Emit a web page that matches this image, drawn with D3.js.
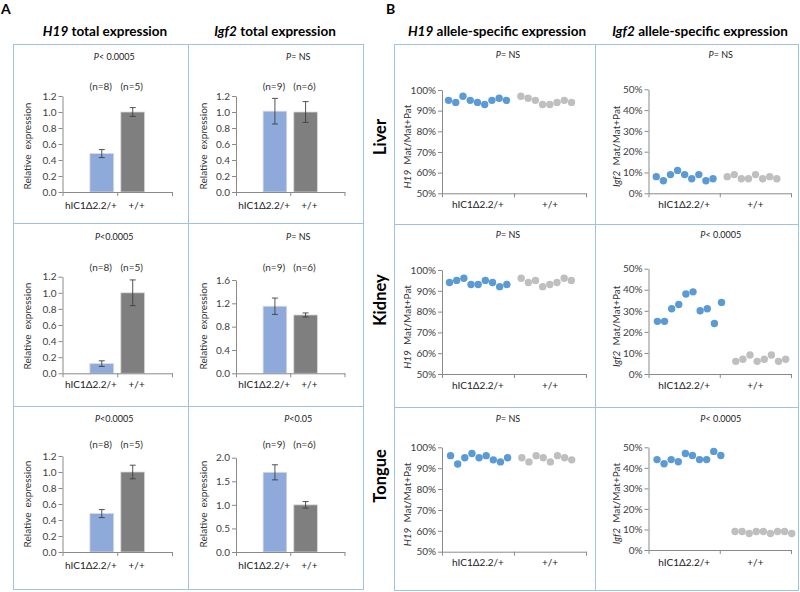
<!DOCTYPE html>
<html><head><meta charset="utf-8">
<script src="https://cdn.jsdelivr.net/npm/d3@7"></script>
<style>
body{margin:0;background:#fff}
svg{display:block}
text{font-family:Lato,"Open Sans",sans-serif}
</style>
</head><body>
<svg id="c" width="800" height="592"></svg>
<script>
// ---------------- DATA ----------------
const categories = ["hIC1Δ2.2/+", "+/+"];
const tissues = ["Liver", "Kidney", "Tongue"];
const nH19 = ["(n=8)", "(n=5)"];
const nIgf2 = ["(n=9)", "(n=6)"];

// Panel A: total expression (per tissue: Liver, Kidney, Tongue)
const h19TotalMut = [0.48, 0.12, 0.48];
const h19TotalMutErr = [0.05, 0.035, 0.05];
const h19TotalWt = [1.0, 1.0, 1.0];
const h19TotalWtErr = [0.055, 0.16, 0.085];
const igf2TotalMut = [1.01, 1.15, 1.69];
const igf2TotalMutErr = [0.16, 0.14, 0.16];
const igf2TotalWt = [1.0, 1.0, 1.0];
const igf2TotalWtErr = [0.13, 0.035, 0.07];
const h19TotalP = ["< 0.0005", "<0.0005", "<0.0005"];
const igf2TotalP = ["= NS", "= NS", "<0.05"];
const h19TotalTicks = [0, 0.2, 0.4, 0.6, 0.8, 1.0, 1.2];
const igf2TotalTicks = [
  [0, 0.2, 0.4, 0.6, 0.8, 1.0, 1.2],
  [0, 0.4, 0.8, 1.2, 1.6],
  [0, 0.5, 1.0, 1.5, 2.0]
];

// Panel B: allele-specific expression (% maternal)
const h19LiverMut  = [95, 94, 97, 95, 94, 93, 95, 96, 95];
const h19LiverWt   = [97, 96, 95, 93, 93, 94, 95, 94];
const igf2LiverMut = [8, 6, 9, 11, 9, 7, 9, 6, 7];
const igf2LiverWt  = [8, 9, 7, 7, 9, 7, 8, 7];
const h19KidneyMut  = [94, 95, 96, 93, 93, 95, 94, 92, 93];
const h19KidneyWt   = [96, 94, 95, 92, 93, 94, 96, 95];
const igf2KidneyMut = [25, 25, 31, 33, 38, 39, 30, 31, 24, 34];
const igf2KidneyWt  = [6, 7, 9, 6, 7, 9, 6, 7];
const h19TongueMut  = [96, 92, 95, 97, 95, 96, 94, 93, 95];
const h19TongueWt   = [95, 93, 96, 95, 93, 96, 95, 94];
const igf2TongueMut = [44, 42, 44, 43, 47, 46, 44, 44, 48, 46];
const igf2TongueWt  = [9, 9, 8, 9, 9, 8, 9, 9, 8];
const h19AlleleP = ["= NS", "= NS", "= NS"];
const igf2AlleleP = ["= NS", "< 0.0005", "< 0.0005"];
const h19AlleleTicks = [50, 60, 70, 80, 90, 100];
const igf2AlleleTicks = [0, 10, 20, 30, 40, 50];

// ---------------- STYLE / LAYOUT ----------------
const C = {
  frame: "#a3c1e2", axis: "#8a8a8a", tick: "#404040",
  blueBar: "#8eaadb", grayBar: "#7f7f7f",
  blueDot: "#5b9bd5", grayDot: "#bfbfbf", err: "#404040"
};
const FS = 10;
const svg = d3.select("#c");

function frame(x0, x1, y0, y1, vx, hys) {
  const g = svg.append("g").attr("stroke", C.frame).attr("fill", "none").attr("stroke-width", 1);
  g.append("rect").attr("x", x0).attr("y", y0).attr("width", x1 - x0).attr("height", y1 - y0);
  g.append("line").attr("x1", vx).attr("x2", vx).attr("y1", y0).attr("y2", y1);
  hys.forEach(h => g.append("line").attr("x1", x0).attr("x2", x1).attr("y1", h).attr("y2", h));
}
frame(13.5, 363.5, 44.5, 589.5, 188.5, [223.5, 406.5]);
frame(394.5, 798.5, 44.5, 590.5, 595.5, [224.5, 407.5]);

// panel letters and titles
svg.append("text").attr("x", 1).attr("y", 14).attr("font-size", 14).attr("font-weight", "bold").text("A");
svg.append("text").attr("x", 386).attr("y", 14).attr("font-size", 14).attr("font-weight", "bold").text("B");

function title(x, gene, rest) {
  const t = svg.append("text").attr("x", x).attr("y", 36).attr("text-anchor", "middle")
    .attr("font-size", 13.5).attr("font-weight", "bold");
  t.append("tspan").attr("font-style", "italic").text(gene);
  t.append("tspan").text(" " + rest);
}
title(105, "H19", "total expression");
title(275, "Igf2", "total expression");
title(497, "H19", "allele-specific expression");
title(700, "Igf2", "allele-specific expression");

const rowLabelY = [137, 300, 476];
tissues.forEach((t, i) => {
  svg.append("text").attr("transform", `translate(386,${rowLabelY[i]}) rotate(-90)`)
    .attr("text-anchor", "middle").attr("font-size", 16.5).attr("font-weight", "bold").text(t);
});

function pLabel(x, y, txt) {
  const t = svg.append("text").attr("x", x).attr("y", y).attr("dy", "0.35em")
    .attr("text-anchor", "middle").attr("font-size", 9).attr("fill", "#222");
  t.append("tspan").attr("font-style", "italic").text("P");
  t.append("tspan").text(txt);
}

function yAxis(g, y, x, ticks, fmt) {
  const a = g.append("g").attr("transform", `translate(${x},0)`)
    .call(d3.axisLeft(y).tickValues(ticks).tickFormat(fmt).tickSize(4).tickSizeOuter(0));
  a.select(".domain").attr("stroke", C.axis);
  a.selectAll(".tick line").attr("stroke", C.axis);
  a.selectAll(".tick text").attr("fill", C.tick).attr("font-size", FS).attr("font-family", "Lato").attr("x", -6);
}
function xAxis(g, xl, xr, yb) {
  const xb = d3.scaleLinear().domain([0, 2]).range([xl, xr]);
  const a = g.append("g").attr("transform", `translate(0,${yb})`)
    .call(d3.axisBottom(xb).tickValues([0, 1, 2]).tickFormat("").tickSize(4).tickSizeOuter(0));
  a.select(".domain").attr("stroke", C.axis);
  a.selectAll(".tick line").attr("stroke", C.axis);
  return xb;
}

// ---------------- PANEL A ----------------
const rowsA = [
  {yb: 192, topH: 96, topI: 96, pY: 57, nY: 86, labY: 205, ylabY: 146},
  {yb: 373.3, topH: 276.7, topI: 280, pY: 237, nY: 267, labY: 384, ylabY: 326},
  {yb: 552, topH: 456, topI: 457.7, pY: 418.5, nY: 444.5, labY: 565, ylabY: 504}
];
const colsA = [
  {xl: 62.5, xr: 172, pDx: -3, ylabX: 27},
  {xl: 236, xr: 344.5, pDx: 8, ylabX: 203}
];

function barChart(col, row, ticks, mut, mutErr, wt, wtErr, nLab, pTxt) {
  const g = svg.append("g");
  const y = d3.scaleLinear().domain([0, d3.max(ticks)]).range([row.yb, col.top]);
  const x0 = d3.scaleBand().domain(categories).range([col.xl, col.xr]);
  const x1 = d3.scaleBand().domain(["s1", "s2"]).range([0, x0.bandwidth()]).paddingOuter(0.15);
  const bars = [
    {cat: categories[0], s: "s2", v: mut, e: mutErr, c: C.blueBar, n: nLab[0]},
    {cat: categories[1], s: "s1", v: wt, e: wtErr, c: C.grayBar, n: nLab[1]}
  ];
  bars.forEach(b => {
    const bx = x0(b.cat) + x1(b.s), bw = x1.bandwidth();
    g.append("rect").attr("x", bx).attr("y", y(b.v)).attr("width", bw).attr("height", y(0) - y(b.v))
      .attr("fill", b.c).attr("stroke", "#d9d9d9").attr("stroke-width", 0.8);
    const cx = bx + bw / 2;
    g.append("line").attr("x1", cx).attr("x2", cx).attr("y1", y(b.v + b.e)).attr("y2", y(b.v - b.e))
      .attr("stroke", C.err).attr("stroke-width", 0.9);
    [b.v + b.e, b.v - b.e].forEach(v => g.append("line").attr("x1", cx - 3).attr("x2", cx + 3)
      .attr("y1", y(v)).attr("y2", y(v)).attr("stroke", C.err).attr("stroke-width", 0.9));
    g.append("text").attr("x", cx - 1).attr("y", row.nY).attr("dy", "0.35em").attr("text-anchor", "middle")
      .attr("font-size", FS).attr("fill", "#333").text(b.n);
  });
  yAxis(g, y, col.xl, ticks, d3.format(".1f"));
  xAxis(g, col.xl, col.xr, row.yb);
  const labDx = [1, -8];
  categories.forEach((c, i) => {
    g.append("text").attr("x", x0(c) + x0.bandwidth() / 2 + labDx[i]).attr("y", row.labY).attr("dy", "0.35em")
      .attr("text-anchor", "middle").attr("font-size", FS).attr("fill", "#222").text(c);
  });
  g.append("text").attr("transform", `translate(${col.ylabX},${row.ylabY}) rotate(-90)`)
    .attr("text-anchor", "middle").attr("dy", "0.35em").attr("font-size", FS).attr("fill", "#333")
    .style("white-space", "pre").text("Relative  expression");
  pLabel((col.xl + col.xr) / 2 + col.pDx, row.pY, pTxt);
}

rowsA.forEach((row, i) => {
  barChart({...colsA[0], top: row.topH}, row, h19TotalTicks,
    h19TotalMut[i], h19TotalMutErr[i], h19TotalWt[i], h19TotalWtErr[i], nH19, h19TotalP[i]);
  barChart({...colsA[1], top: row.topI}, row, igf2TotalTicks[i],
    igf2TotalMut[i], igf2TotalMutErr[i], igf2TotalWt[i], igf2TotalWtErr[i], nIgf2, igf2TotalP[i]);
});

// ---------------- PANEL B ----------------
const rowsB = [
  {h: {yb: 193.3, top: 90, dom: [-0.9, 19]}, i: {yb: 193.3, top: 89.3, dom: [-1.1, 19]}, pY: 55, labY: 204},
  {h: {yb: 374, top: 270, dom: [-1.05, 19.05]}, i: {yb: 374, top: 268.7, dom: [-1.25, 18.75]}, pY: 235, labY: 385},
  {h: {yb: 551.7, top: 447.3, dom: [-1.2, 19]}, i: {yb: 550, top: 447.3, dom: [-1.2, 18.9]}, pY: 419, labY: 562}
];
const colsB = [
  {xl: 442, xr: 586, pDx: -6, ylabX: 407, gene: "H19"},
  {xl: 648.5, xr: 791, pDx: 1, ylabX: 616.5, gene: "Igf2"}
];
const bData = [
  [[h19LiverMut, h19LiverWt], [igf2LiverMut, igf2LiverWt]],
  [[h19KidneyMut, h19KidneyWt], [igf2KidneyMut, igf2KidneyWt]],
  [[h19TongueMut, h19TongueWt], [igf2TongueMut, igf2TongueWt]]
];

function dotChart(col, geo, row, ticks, mut, wt, pTxt) {
  const g = svg.append("g");
  const x = d3.scaleLinear().domain(geo.dom).range([col.xl, col.xr]);
  const y = d3.scaleLinear().domain([ticks[0], ticks[ticks.length - 1]]).range([geo.yb, geo.top]);
  yAxis(g, y, col.xl, ticks, d => d + "%");
  const xb = xAxis(g, col.xl, col.xr, geo.yb);
  categories.forEach((c, i) => {
    g.append("text").attr("x", xb(i + 0.5)).attr("y", row.labY).attr("dy", "0.35em")
      .attr("text-anchor", "middle").attr("font-size", FS).attr("fill", "#222").text(c);
  });
  g.selectAll("circle.m").data(mut).enter().append("circle")
    .attr("cx", (d, i) => x(i)).attr("cy", d => y(d)).attr("r", 3.7).attr("fill", C.blueDot);
  g.selectAll("circle.w").data(wt).enter().append("circle")
    .attr("cx", (d, i) => x(mut.length + 1 + i)).attr("cy", d => y(d)).attr("r", 3.7).attr("fill", C.grayDot);
  const cy = (geo.yb + geo.top) / 2 + 5;
  const t = g.append("text").attr("transform", `translate(${col.ylabX},${cy}) rotate(-90)`)
    .attr("text-anchor", "middle").attr("dy", "0.35em").attr("font-size", FS).attr("fill", "#333");
  t.append("tspan").attr("font-style", "italic").text(col.gene);
  t.append("tspan").text("  Mat/Mat+Pat");
  t.style("white-space", "pre");
  pLabel((col.xl + col.xr) / 2 + col.pDx, row.pY, pTxt);
}

rowsB.forEach((row, i) => {
  dotChart(colsB[0], row.h, row, h19AlleleTicks, bData[i][0][0], bData[i][0][1], h19AlleleP[i]);
  dotChart(colsB[1], row.i, row, igf2AlleleTicks, bData[i][1][0], bData[i][1][1], igf2AlleleP[i]);
});
</script>
</body></html>
